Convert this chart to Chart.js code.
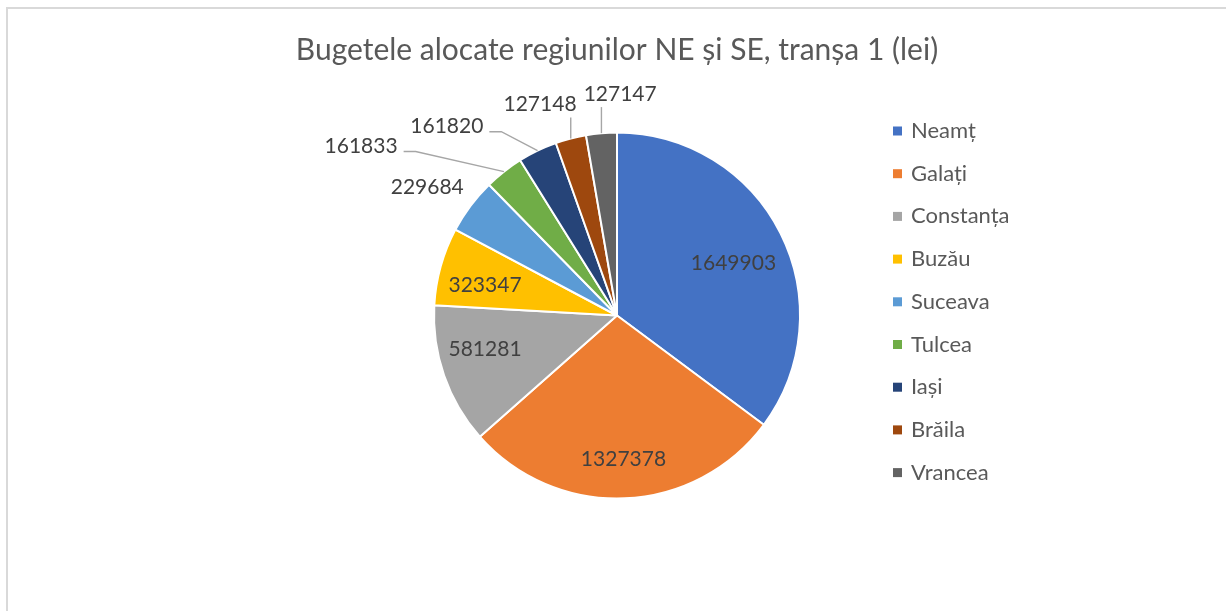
<!DOCTYPE html>
<html><head><meta charset="utf-8">
<script src="https://cdn.jsdelivr.net/npm/chart.js@4"></script>
<style>html,body{margin:0;padding:0;background:#fff}#wrap{width:1226px;height:611px;position:relative}</style>
</head><body><div id="wrap"><canvas id="c" width="1226" height="611"></canvas></div>
<script>
const categories = ['Neamț','Galați','Constanța','Buzău','Suceava','Tulcea','Iași','Brăila','Vrancea'];
const values = [1649903,1327378,581281,323347,229684,161833,161820,127148,127147];
const colors = ['#4472C4','#ED7D31','#A5A5A5','#FFC000','#5B9BD5','#70AD47','#264478','#9E480E','#636363'];
const titleText = 'Bugetele alocate regiunilor NE și SE, tranșa 1 (lei)';

// label placement relative to each slice: angle offset (deg) from slice mid-angle, radius factor, leader style
const labelPlacement = [
  {da: 2.4,  rf: 0.698, leader: null},
  {da: -0.2, rf: 0.785, leader: null},
  {da: 4.9,  rf: 0.744, leader: null},
  {da: -2.6, rf: 0.740, leader: null},
  {da: -2.8, rf: 1.251, leader: null},
  {da: -18.4,rf: 1.676, leader: 'elbow'},
  {da: -16.3,rf: 1.389, leader: 'elbow'},
  {da: -5.4, rf: 1.227, leader: 'vertical'},
  {da: 5.7,  rf: 1.21,  leader: 'vertical'}
];

const FONT = 'Lato, "Open Sans", sans-serif';

const decor = {
  id: 'decor',
  beforeDraw(chart) {
    const ctx = chart.ctx;
    ctx.save();
    ctx.strokeStyle = '#d9d9d9';
    ctx.lineWidth = 2;
    ctx.strokeRect(7, 8, 1240, 620);
    ctx.restore();
  },
  afterDatasetsDraw(chart) {
    const ctx = chart.ctx;
    const meta = chart.getDatasetMeta(0);
    const data = chart.data.datasets[0].data;
    ctx.save();
    ctx.font = '21px ' + FONT;
    ctx.textAlign = 'center';
    ctx.textBaseline = 'middle';
    meta.data.forEach((arc, i) => {
      const {x, y, startAngle, endAngle, outerRadius} = arc.getProps(['x','y','startAngle','endAngle','outerRadius'], true);
      const mid = (startAngle + endAngle) / 2;
      const p = labelPlacement[i];
      const a = mid + p.da * Math.PI / 180;
      const tx = x + Math.cos(a) * outerRadius * p.rf;
      const ty = y + Math.sin(a) * outerRadius * p.rf;
      const text = String(data[i]);
      const w = ctx.measureText(text).width;
      const ex = x + Math.cos(mid) * outerRadius;
      const ey = y + Math.sin(mid) * outerRadius;
      ctx.strokeStyle = '#a6a6a6';
      ctx.lineWidth = 1.4;
      if (p.leader === 'elbow') {
        ctx.beginPath();
        ctx.moveTo(tx + w / 2 + 6, ty + 5);
        ctx.lineTo(tx + w / 2 + 18, ty + 5);
        ctx.lineTo(ex, ey);
        ctx.stroke();
      } else if (p.leader === 'vertical') {
        ctx.beginPath();
        ctx.moveTo(ex, ey);
        ctx.lineTo(ex, ty + 13);
        ctx.stroke();
      }
      ctx.fillStyle = '#404040';
      ctx.fillText(text, tx, ty);
    });
    ctx.restore();
  },
  afterDraw(chart) {
    const ctx = chart.ctx;
    const labels = chart.data.labels;
    const bg = chart.data.datasets[0].backgroundColor;
    ctx.save();
    ctx.font = '22px ' + FONT;
    ctx.textAlign = 'left';
    ctx.textBaseline = 'middle';
    const x0 = 893, y0 = 131, step = 42.7, box = 9;
    labels.forEach((lab, i) => {
      const cy = y0 + i * step;
      ctx.fillStyle = bg[i];
      ctx.fillRect(x0, cy - box / 2, box, box);
      ctx.fillStyle = '#595959';
      ctx.fillText(lab, x0 + 18, cy);
    });
    ctx.restore();
  }
};

new Chart(document.getElementById('c'), {
  type: 'pie',
  data: {
    labels: categories,
    datasets: [{
      data: values,
      backgroundColor: colors,
      borderColor: '#ffffff',
      borderWidth: 2,
      radius: 183
    }]
  },
  options: {
    responsive: false,
    animation: false,
    devicePixelRatio: 1,
    layout: {padding: {top: 20, bottom: 112, left: 8, right: 0}},
    plugins: {
      legend: {display: false},
      tooltip: {enabled: false},
      title: {
        display: true,
        text: titleText,
        color: '#595959',
        font: {family: FONT, size: 30, weight: 'normal', lineHeight: 1.2},
        padding: {top: 12, bottom: 64}
      }
    }
  },
  plugins: [decor]
});
</script>
</body></html>
